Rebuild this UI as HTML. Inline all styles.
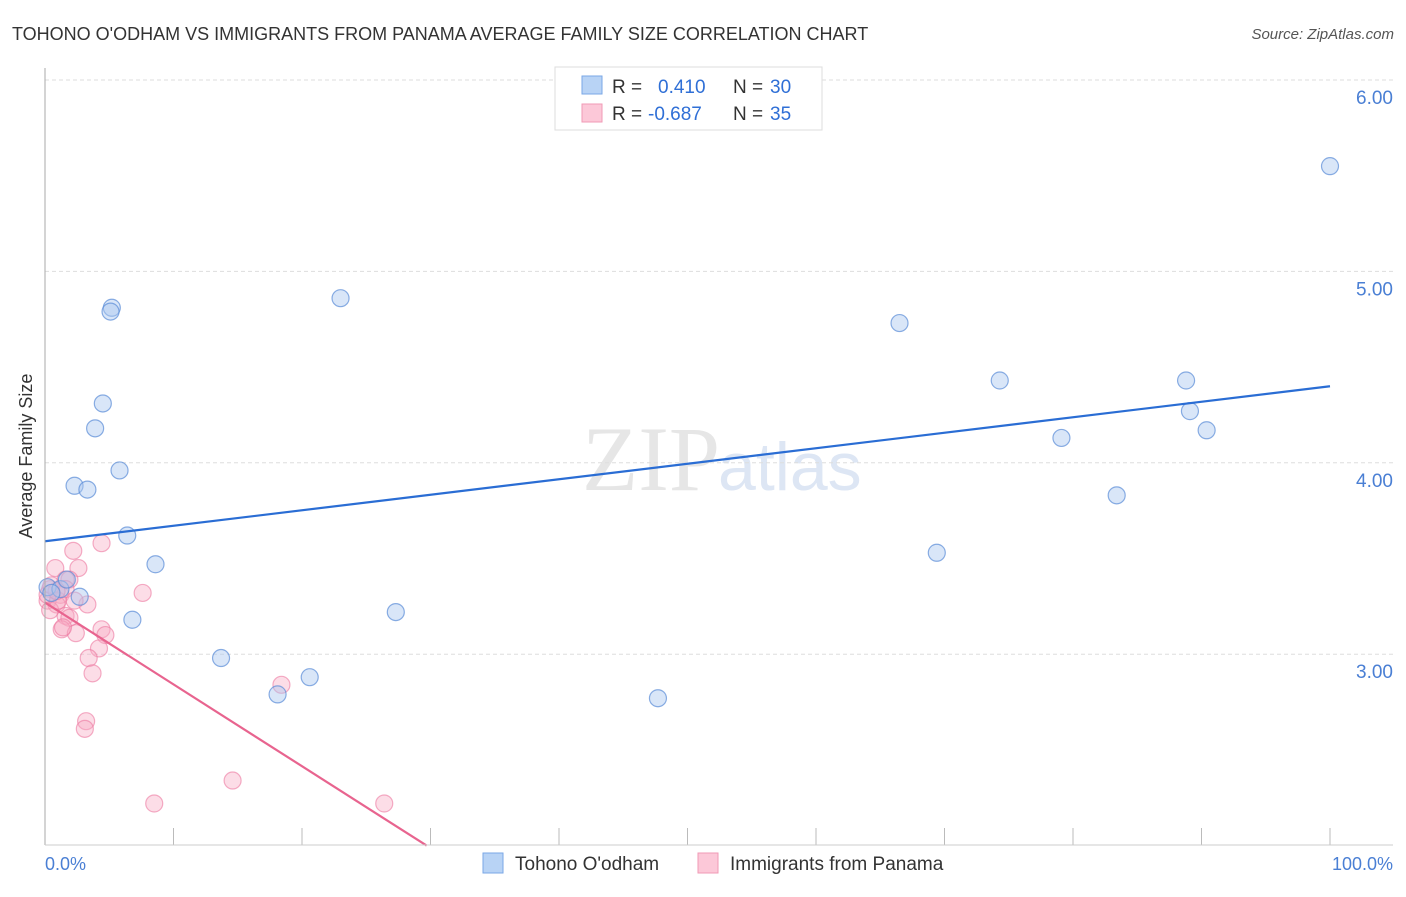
<!DOCTYPE html>
<html><head><meta charset="utf-8"><style>
body{margin:0;background:#fff;font-family:"Liberation Sans",sans-serif}
svg text{font-family:"Liberation Sans",sans-serif}
</style></head><body>
<svg width="1406" height="892" id="c">
<text x="12" y="40" font-size="18" fill="#333">TOHONO O'ODHAM VS IMMIGRANTS FROM PANAMA AVERAGE FAMILY SIZE CORRELATION CHART</text>
<text x="1394" y="39" font-size="15" fill="#555" font-style="italic" text-anchor="end">Source: ZipAtlas.com</text>
<text x="720" y="490" font-size="92" fill="#e6e6e6" text-anchor="end" font-family="Liberation Serif" style="font-family:'Liberation Serif',serif">ZIP</text>
<text x="718" y="490" font-size="68" fill="#dde6f4">atlas</text>
<text x="32" y="456" font-size="18" fill="#333" text-anchor="middle" transform="rotate(-90 32 456)">Average Family Size</text>
<g id="grid"></g><g id="pts"></g>
<line x1="45" y1="68" x2="45" y2="845" stroke="#aaa"/>
<line x1="45" y1="845" x2="1393" y2="845" stroke="#ccc"/>
<text x="45" y="870" font-size="18" fill="#4a7fd4">0.0%</text>
<text x="1393" y="870" font-size="18" fill="#4a7fd4" text-anchor="end">100.0%</text>
<g>
<rect x="555" y="67" width="267" height="63" fill="#fff" stroke="#ddd"/>
<rect x="582" y="76" width="20" height="18" fill="#b8d3f5" stroke="#7aa7e6"/>
<rect x="582" y="104" width="20" height="18" fill="#fcc8d8" stroke="#f09ab6"/>
<text x="612" y="93" font-size="19" fill="#333">R = <tspan fill="#2f6fd6" x="658">0.410</tspan><tspan fill="#333" x="733">N =</tspan><tspan fill="#2f6fd6" x="770">30</tspan></text>
<text x="612" y="120" font-size="19" fill="#333">R = <tspan fill="#2f6fd6" x="648">-0.687</tspan><tspan fill="#333" x="733">N =</tspan><tspan fill="#2f6fd6" x="770">35</tspan></text>
</g>
<g>
<rect x="483" y="853" width="20" height="20" fill="#b8d3f5" stroke="#7aa7e6"/>
<text x="515" y="870" font-size="19" fill="#333">Tohono O'odham</text>
<rect x="698" y="853" width="20" height="20" fill="#fcc8d8" stroke="#f09ab6"/>
<text x="730" y="870" font-size="19" fill="#333">Immigrants from Panama</text>
</g>
</svg>
<script>
const yTicks=[3,4,5,6];
const yTickLabels=["3.00","4.00","5.00","6.00"];
const xTicks=[0,10,20,30,40,50,60,70,80,90,100];
const blueX=[100,5.2,5.1,23.0,66.5,4.5,3.9,74.3,88.8,89.1,90.4,79.1,5.8,2.3,3.3,83.4,6.4,69.4,8.6,0.2,1.2,1.7,2.7,27.3,6.8,13.7,20.6,18.1,47.7,0.5];
const blueY=[5.55,4.81,4.79,4.86,4.73,4.31,4.18,4.43,4.43,4.27,4.17,4.13,3.96,3.88,3.86,3.83,3.62,3.53,3.47,3.35,3.34,3.39,3.30,3.22,3.18,2.98,2.88,2.79,2.77,3.32];
const pinkX=[2.2,4.4,0.8,2.6,1.6,1.9,0.4,1.2,0.2,0.9,3.3,7.6,1.6,1.9,1.3,4.4,2.4,4.7,4.2,3.4,3.7,18.4,3.2,3.1,14.6,8.5,26.4,0.4,1.0,1.6,0.2,0.5,2.3,1.4,0.9];
const pinkY=[3.54,3.58,3.45,3.45,3.39,3.39,3.34,3.31,3.28,3.26,3.26,3.32,3.20,3.19,3.13,3.13,3.11,3.10,3.03,2.98,2.90,2.84,2.65,2.61,2.34,2.22,2.22,3.23,3.28,3.34,3.31,3.36,3.28,3.14,3.33];
const blueTrend=[[0,3.59],[100,4.40]];
const pinkTrend=[[0,3.27],[29.7,2.0]];
const X=v=>45+v*12.85, Y=v=>80+(6-v)*191.4;
const NS="http://www.w3.org/2000/svg";
const g=document.getElementById('grid'), p=document.getElementById('pts');
function mk(tag,at,par){const e=document.createElementNS(NS,tag);for(const k in at)e.setAttribute(k,at[k]);par.appendChild(e);return e;}
yTicks.forEach((t,i)=>{
 const l=mk('line',{x1:45,x2:1393,y1:Y(t),y2:Y(t),stroke:'#ddd','stroke-dasharray':'4,3'},g);
 
 
 const tx=mk('text',{x:1393,y:Y(t)+24,'font-size':19,fill:'#4a7fd4','text-anchor':'end'},g);
 tx.textContent=yTickLabels[i];
 
 
});
xTicks.forEach(t=>{
 const l=mk('line',{x1:X(t),x2:X(t),y1:828,y2:845,stroke:'#bbb'},g);
 
 
});
pinkX.forEach((x,i)=>{
 const c=mk('circle',{cx:X(x),cy:Y(pinkY[i]),r:8.5,fill:'rgba(248,170,196,0.4)',stroke:'rgba(236,120,160,0.6)','stroke-width':1.2},p);
 
 
});
blueX.forEach((x,i)=>{
 const c=mk('circle',{cx:X(x),cy:Y(blueY[i]),r:8.5,fill:'rgba(170,200,240,0.45)',stroke:'rgba(90,140,215,0.7)','stroke-width':1.2},p);
 
 
});
const bt=mk('line',{x1:X(blueTrend[0][0]),y1:Y(blueTrend[0][1]),x2:X(blueTrend[1][0]),y2:Y(blueTrend[1][1]),stroke:'#2a6dd4','stroke-width':2.2},p);


const pt=mk('line',{x1:X(pinkTrend[0][0]),y1:Y(pinkTrend[0][1]),x2:X(pinkTrend[1][0]),y2:Y(pinkTrend[1][1]),stroke:'#e8648f','stroke-width':2.2},p);


</script>
</body></html>
